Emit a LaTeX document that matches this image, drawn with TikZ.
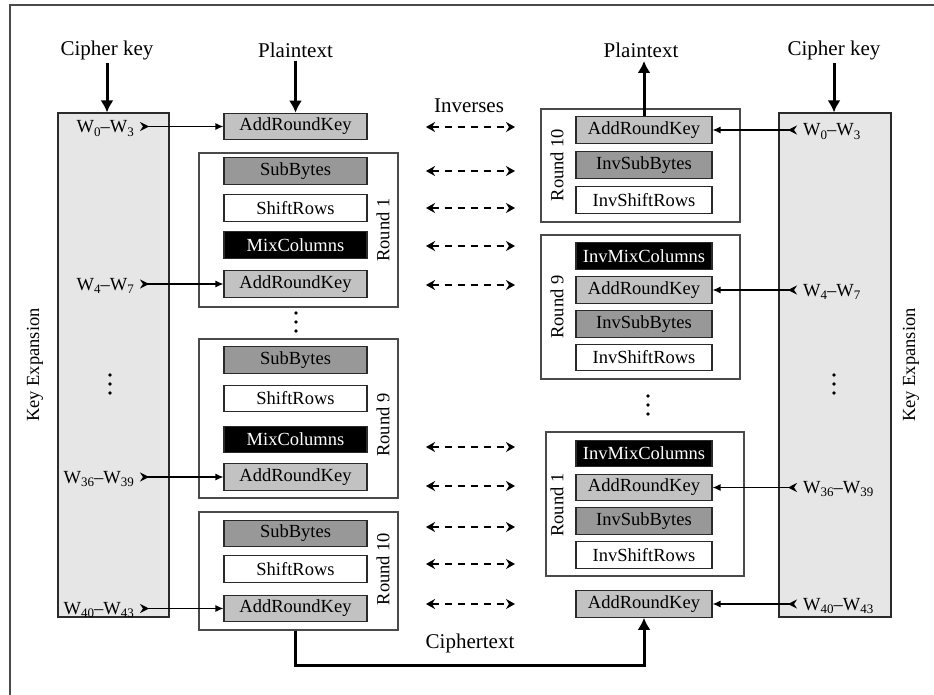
\documentclass[tikz,border=0pt]{standalone}
\usepackage{fontspec}
\setmainfont{Liberation Serif}
\usetikzlibrary{arrows.meta, positioning}
\definecolor{keyfill}{HTML}{E6E6E6}
\definecolor{addfill}{HTML}{C2C2C2}
\definecolor{subfill}{HTML}{989898}
\definecolor{frameline}{HTML}{4A4A4A}
\definecolor{stageline}{HTML}{2A2A2A}
\newcommand{\wsub}[1]{\raisebox{-0.4ex}{\fontsize{13}{13}\selectfont #1}}
\newcommand{\wrange}[2]{W\wsub{#1}--W\wsub{#2}}

\begin{document}
\begin{tikzpicture}[
        x=1pt, y=-1pt,
        stage/.style={
            draw=stageline,
            line width=1.1pt,
            minimum width=143pt,
            minimum height=26.5pt,
            inner sep=0pt,
            font=\fontsize{18.5}{20}\selectfont
        },
        invstage/.style={stage, minimum width=136pt},
        addkey/.style={fill=addfill},
        subbytes/.style={fill=subfill},
        shiftrows/.style={fill=white},
        mixcolumns/.style={fill=black, text=white},
        roundbox/.style={draw=frameline, line width=1.1pt, fill=white, inner sep=0pt},
        keybox/.style={
            draw=stageline,
            line width=1.1pt,
            fill=keyfill,
            inner sep=0pt,
            minimum height=504pt
        },
        roundlabel/.style={rotate=90, inner sep=0pt, font=\fontsize{18.5}{20}\selectfont},
        wordlabel/.style={inner xsep=6pt, inner ysep=0pt, font=\fontsize{18.5}{20}\selectfont},
        biglabel/.style={font=\fontsize{21}{24}\selectfont},
        datalink/.style={-{Latex[length=12pt, width=13pt]}, line width=3pt},
        keylink/.style={
            {Stealth[reversed, length=9pt, width=9pt, inset=3pt]}-{Latex[length=8pt, width=7pt]},
            line width=1.2pt
        },
        inverselink/.style={
            {Stealth[length=9pt, width=10pt]}-{Stealth[length=9pt, width=10pt]},
            line width=1.4pt,
            dash pattern=on 7pt off 6pt
        }
    ]
        \fill[white] (0,0) rectangle (934,695);
        \useasboundingbox (0,0) rectangle (934,695);
        \draw[frameline, line width=1.2pt] (10,695) -- (10,5) -- (934,5);

        % key expansion columns
        \node[keybox, minimum width=111pt] (keyleft) at (113.5,365) {};
        \node[keybox, minimum width=112pt] (keyright) at (835,365) {};
        \node[roundlabel] (kexleft) at (35,365) {Key Expansion};
        \node[roundlabel] (kexright) at (911,365) {Key Expansion};

        % cipher (left)
        \node[roundbox, minimum width=199pt, minimum height=154pt] (roundlone) at (298.5,230) {};
        \node[roundbox, minimum width=199pt, minimum height=159pt] (roundlnine) at (298.5,418.5) {};
        \node[roundbox, minimum width=199pt, minimum height=118pt] (roundlten) at (298.5,571) {};

        \node[stage, addkey] (addlzero) at (295.5,126.5) {AddRoundKey};
        \node[stage, subbytes] (sublone) at (295.5,171) {SubBytes};
        \node[stage, shiftrows] (shiftlone) at (295.5,208) {ShiftRows};
        \node[stage, mixcolumns] (mixlone) at (295.5,245) {MixColumns};
        \node[stage, addkey] (addlone) at (295.5,284) {AddRoundKey};
        \node[stage, subbytes] (sublnine) at (295.5,360) {SubBytes};
        \node[stage, shiftrows] (shiftlnine) at (295.5,398.5) {ShiftRows};
        \node[stage, mixcolumns] (mixlnine) at (295.5,439.5) {MixColumns};
        \node[stage, addkey] (addlnine) at (295.5,477) {AddRoundKey};
        \node[stage, subbytes] (sublten) at (295.5,533.5) {SubBytes};
        \node[stage, shiftrows] (shiftlten) at (295.5,569) {ShiftRows};
        \node[stage, addkey] (addlten) at (295.5,608.5) {AddRoundKey};

        \node[roundlabel] (rlone) at (383,230) {Round 1};
        \node[roundlabel] (rlnine) at (383,425) {Round 9};
        \node[roundlabel] (rlten) at (383,569) {Round 10};

        % decipher (right)
        \node[roundbox, minimum width=199pt, minimum height=113pt] (roundrten) at (640.5,165.5) {};
        \node[roundbox, minimum width=199pt, minimum height=144pt] (roundrnine) at (640.5,307) {};
        \node[roundbox, minimum width=198pt, minimum height=144pt] (roundrone) at (645,504) {};

        \node[invstage, addkey] (addrten) at (644,130) {AddRoundKey};
        \node[invstage, subbytes] (subrten) at (644,165) {InvSubBytes};
        \node[invstage, shiftrows] (shiftrten) at (644,200) {InvShiftRows};
        \node[invstage, mixcolumns] (mixrnine) at (644,256) {InvMixColumns};
        \node[invstage, addkey] (addrnine) at (644,290) {AddRoundKey};
        \node[invstage, subbytes] (subrnine) at (644,324) {InvSubBytes};
        \node[invstage, shiftrows] (shiftrnine) at (644,357.5) {InvShiftRows};
        \node[invstage, mixcolumns] (mixrone) at (644,453.5) {InvMixColumns};
        \node[invstage, addkey] (addrone) at (644,487.5) {AddRoundKey};
        \node[invstage, subbytes] (subrone) at (644,521) {InvSubBytes};
        \node[invstage, shiftrows] (shiftrone) at (644,555) {InvShiftRows};
        \node[invstage, addkey] (addrfin) at (644,604) {AddRoundKey};

        \node[roundlabel] (rrten) at (557,165) {Round 10};
        \node[roundlabel] (rrnine) at (557,307) {Round 9};
        \node[roundlabel] (rrone) at (557,505) {Round 1};

        % round keys
        \node[wordlabel, anchor=base east] (wlzero) at (140,133) {\wrange{0}{3}};
        \node[wordlabel, anchor=base east] (wlone) at (140,290) {\wrange{4}{7}};
        \node[wordlabel, anchor=base east] (wlnine) at (140,483) {\wrange{36}{39}};
        \node[wordlabel, anchor=base east] (wlten) at (140,614.5) {\wrange{40}{43}};
        \node[wordlabel, anchor=base west] (wrzero) at (797,136) {\wrange{0}{3}};
        \node[wordlabel, anchor=base west] (wrnine) at (797,296) {\wrange{4}{7}};
        \node[wordlabel, anchor=base west] (wrone) at (797,493.5) {\wrange{36}{39}};
        \node[wordlabel, anchor=base west] (wrfin) at (797,610) {\wrange{40}{43}};

        \draw[keylink] (wlzero.east |- addlzero.west) -- (addlzero.west);
        \draw[keylink] (wlone.east |- addlone.west) -- (addlone.west);
        \draw[keylink] (wlnine.east |- addlnine.west) -- (addlnine.west);
        \draw[keylink] (wlten.east |- addlten.west) -- (addlten.west);
        \draw[keylink] (wrzero.west |- addrten.east) -- (addrten.east);
        \draw[keylink] (wrnine.west |- addrnine.east) -- (addrnine.east);
        \draw[keylink] (wrone.west |- addrone.east) -- (addrone.east);
        \draw[keylink] (wrfin.west |- addrfin.east) -- (addrfin.east);

        % inputs and outputs
        \node[biglabel] (ckleft) at (107,50) {Cipher key};
        \node[biglabel] (ptleft) at (295.5,50) {Plaintext};
        \node[biglabel] (ptright) at (641,50) {Plaintext};
        \node[biglabel] (ckright) at (834,50) {Cipher key};
        \node[biglabel] (inverses) at (469,106) {Inverses};
        \node[biglabel] (ciphertext) at (470,643) {Ciphertext};

        \draw[datalink] (ckleft.south) -- (ckleft.south |- keyleft.north);
        \draw[datalink] (ptleft.south) -- (addlzero.north);
        \draw[datalink] (addrten.north) -- (addrten.north |- ptright.south);
        \draw[datalink] (ckright.south) -- (ckright.south |- keyright.north);
        \draw[datalink] (addlten.south |- roundlten.south) -- ++(0,35) -| (addrfin.south);

        % inverse pairs
        \foreach \row/\ypos in {a/127, b/171, c/208, d/246, e/285, f/447, g/486, h/527, i/564, j/604} {
            \coordinate (inv\row l) at (426,\ypos);
            \coordinate (inv\row r) at (515,\ypos);
            \draw[inverselink] (inv\row l) -- (inv\row r);
        }

        % skipped rounds
        \foreach \xpos/\ypos in {296/313, 110/375, 648/396, 834/375} {
            \foreach \k in {0,1,2} {
                \fill (\xpos,\ypos+9*\k) circle (1.9pt);
            }
        }
    \end{tikzpicture}
\end{document}
